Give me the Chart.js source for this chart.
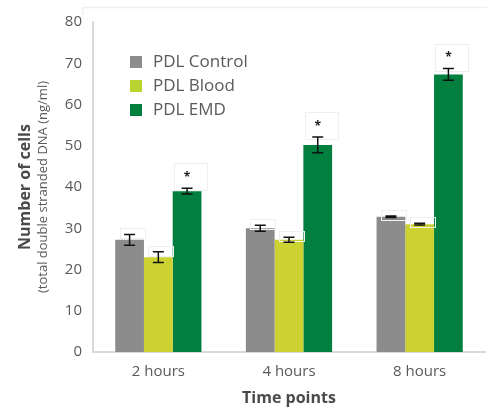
<!DOCTYPE html>
<html>
<head>
<meta charset="utf-8">
<script src="https://cdn.jsdelivr.net/npm/chart.js@4/dist/chart.umd.min.js"></script>
<style>
  html, body { margin: 0; background: #fff; }
  #wrap { width: 487px; height: 411px; position: relative; }
</style>
</head>
<body>
<div id="wrap"><canvas id="cellsChart"></canvas></div>
<script>
// data
const timePoints = ['2 hours', '4 hours', '8 hours'];
const seriesNames = ['PDL Control', 'PDL Blood', 'PDL EMD'];
const controlValues = [27.2, 30.0, 32.8];
const bloodValues = [23.0, 27.2, 31.0];
const emdValues = [39.0, 50.2, 67.3];
const controlErrors = [1.3, 0.7, 0.2];
const bloodErrors = [1.3, 0.6, 0.2];
const emdErrors = [0.7, 1.9, 1.4];
const emdSignificant = [true, true, true];
const yTicks = [0, 10, 20, 30, 40, 50, 60, 70, 80];

const colors = ['#8c8c8c', '#cdd233', '#007f3e'];
const legendColors = ['#8c8c8c', '#b9d532', '#007f3e'];
const errors = [controlErrors, bloodErrors, emdErrors];
const FONT = '"Open Sans", "Noto Sans", sans-serif';
const TEXT = '#5a5a5a';

// error bars, faint label boxes and asterisks
const errorBars = {
    id: 'errorBars',
    afterDatasetsDraw(chart) {
        const ctx = chart.ctx;
        const y = chart.scales.y;
        ctx.save();
        chart.data.datasets.forEach((ds, di) => {
            const meta = chart.getDatasetMeta(di);
            meta.data.forEach((bar, i) => {
                const v = ds.data[i];
                const e = errors[di][i];
                const top = y.getPixelForValue(v + e);
                const bot = y.getPixelForValue(v - e);
                const x = bar.x;

                // faint boxes left over in the original artwork
                ctx.strokeStyle = '#efefef';
                ctx.lineWidth = 1;
                if (di === 2 && emdSignificant[i]) {
                    ctx.strokeRect(Math.round(x - 13) + 0.5, Math.round(top - 25) + 0.5, 33, 27);
                } else {
                    ctx.strokeRect(Math.round(x - 10) + 0.5, Math.round(top - 6) + 0.5, 25, 10);
                }

                ctx.strokeStyle = '#111';
                ctx.lineWidth = 1.5;
                ctx.beginPath();
                ctx.moveTo(x, top); ctx.lineTo(x, bot);
                ctx.moveTo(x - 5.5, top); ctx.lineTo(x + 5.5, top);
                ctx.moveTo(x - 5.5, bot); ctx.lineTo(x + 5.5, bot);
                ctx.stroke();

                if (di === 2 && emdSignificant[i]) {
                    ctx.fillStyle = '#222';
                    ctx.font = 'bold 12px ' + FONT;
                    ctx.textAlign = 'center';
                    ctx.textBaseline = 'middle';
                    ctx.fillText('*', x, top - 11);
                }
            });
        });
        ctx.restore();
    }
};

// legend inside the plot, y-axis two-line title, top frame line
const decorations = {
    id: 'decorations',
    afterDraw(chart) {
        const ctx = chart.ctx;
        const area = chart.chartArea;
        ctx.save();

        ctx.strokeStyle = '#efefef';
        ctx.lineWidth = 1.5;
        ctx.beginPath();
        ctx.moveTo(83, 15); ctx.lineTo(83, 7.5); ctx.lineTo(487, 7.5);
        ctx.stroke();

        ctx.textAlign = 'left';
        ctx.textBaseline = 'middle';
        ctx.font = '17px ' + FONT;
        seriesNames.forEach((name, i) => {
            const cy = 62 + i * 24;
            ctx.fillStyle = legendColors[i];
            ctx.fillRect(130, cy - 6, 12, 12);
            ctx.fillStyle = TEXT;
            ctx.fillText(name, 153, cy);
        });

        const midY = (area.top + area.bottom) / 2;
        ctx.translate(25, midY);
        ctx.rotate(-Math.PI / 2);
        ctx.textAlign = 'center';
        ctx.fillStyle = '#4a4a4a';
        ctx.font = 'bold 16px ' + FONT;
        ctx.fillText('Number of cells', 0, 0);
        ctx.fillStyle = TEXT;
        ctx.font = '13px ' + FONT;
        ctx.fillText('(total double stranded DNA (ng/ml)', 0, 18);
        ctx.restore();
    }
};

const ctx = document.getElementById('cellsChart').getContext('2d');
new Chart(ctx, {
    type: 'bar',
    data: {
        labels: timePoints,
        datasets: [
            { label: seriesNames[0], data: controlValues, backgroundColor: colors[0] },
            { label: seriesNames[1], data: bloodValues, backgroundColor: colors[1] },
            { label: seriesNames[2], data: emdValues, backgroundColor: colors[2] }
        ]
    },
    options: {
        responsive: true,
        maintainAspectRatio: false,
        animation: false,
        devicePixelRatio: 1,
        layout: { padding: { top: 22, right: 2, left: 0, bottom: 0 } },
        datasets: { bar: { categoryPercentage: 0.66, barPercentage: 1 } },
        plugins: { legend: { display: false }, tooltip: { enabled: false } },
        scales: {
            x: {
                grid: { display: false, drawTicks: false },
                border: { color: '#d9d9d9', width: 2 },
                ticks: { color: TEXT, font: { family: FONT, size: 15 }, padding: 11 },
                title: {
                    display: true,
                    text: 'Time points',
                    color: '#4a4a4a',
                    font: { family: FONT, size: 16, weight: 'bold' },
                    padding: { top: 0, bottom: 3 }
                },
                afterFit(scale) { scale.height = 59; }
            },
            y: {
                min: 0,
                max: 80,
                afterBuildTicks(scale) { scale.ticks = yTicks.map(v => ({ value: v })); },
                grid: { display: false, drawTicks: false },
                border: { color: '#d9d9d9', width: 2 },
                ticks: { color: TEXT, font: { family: FONT, size: 15 }, padding: 11 },
                afterFit(scale) { scale.width = 93; }
            }
        }
    },
    plugins: [errorBars, decorations]
});
</script>
</body>
</html>
